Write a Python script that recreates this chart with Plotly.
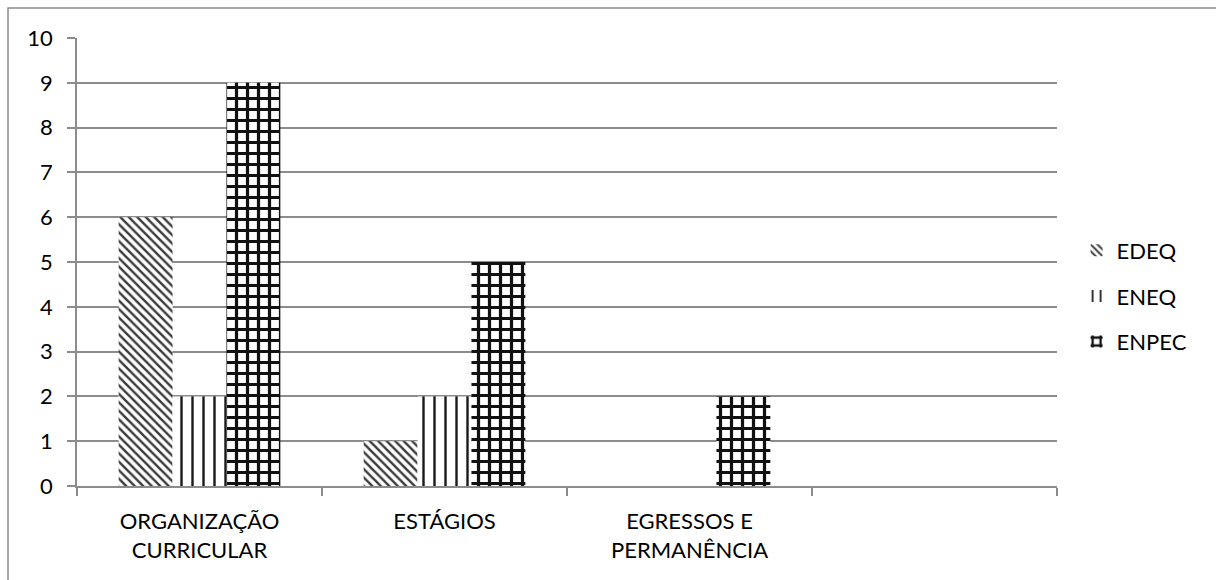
import plotly.graph_objects as go

# Categories on the x axis (the fourth slot is left blank)
categories = ["ORGANIZAÇÃO<br>CURRICULAR", "ESTÁGIOS", "EGRESSOS E<br>PERMANÊNCIA", " "]

# Counts per event
edeq = [6, 1, 0, None]
eneq = [2, 2, 0, None]
enpec = [9, 5, 2, None]

y_ticks = list(range(0, 11))

GRAY = "#8c8c8c"
FONT = dict(family="Lato, 'Open Sans', sans-serif", size=22, color="#000000")

fig = go.Figure()

fig.add_trace(go.Bar(
    name="EDEQ", x=categories, y=edeq, legendgroup="a",
    marker=dict(color="white", line=dict(width=0),
                pattern=dict(shape="\\", size=6, solidity=0.4,
                             fgcolor="#3a3a3a", bgcolor="white", fillmode="replace")),
))
fig.add_trace(go.Bar(
    name="ENEQ", x=categories, y=eneq, legendgroup="b",
    marker=dict(color="white", line=dict(width=0),
                pattern=dict(shape="|", size=11, solidity=0.22,
                             fgcolor="#1a1a1a", bgcolor="white", fillmode="replace")),
))
fig.add_trace(go.Bar(
    name="ENPEC", x=categories, y=enpec, legendgroup="c",
    marker=dict(color="white", line=dict(width=0),
                pattern=dict(shape="+", size=11, solidity=0.5,
                             fgcolor="#111111", bgcolor="white", fillmode="replace")),
))

fig.update_layout(
    width=1216, height=580,
    margin=dict(l=77, r=159, t=38, b=94),
    paper_bgcolor="white", plot_bgcolor="white",
    font=FONT,
    barmode="group", bargap=0.34, bargroupgap=0,
    showlegend=True,
    legend=dict(x=1.02, y=0.424, xanchor="left", yanchor="middle",
                traceorder="grouped", tracegroupgap=14,
                font=FONT, bgcolor="rgba(0,0,0,0)"),
    shapes=[dict(type="rect", xref="paper", yref="paper",
                 x0=-0.0704, x1=1.4, y0=-0.6, y1=1.067,
                 line=dict(color=GRAY, width=1.5), layer="below")],
)

fig.update_xaxes(
    type="category", categoryorder="array", categoryarray=categories,
    tickson="boundaries", ticks="outside", ticklen=8, tickwidth=1.5, tickcolor=GRAY,
    showline=True, linecolor=GRAY, linewidth=1.5,
    showgrid=False, zeroline=False, tickfont=FONT, ticklabelstandoff=15,
)
fig.update_yaxes(
    range=[0, 10], tickvals=y_ticks, ticks="outside", ticklen=8, tickwidth=1.5,
    tickcolor=GRAY, showline=True, linecolor=GRAY, linewidth=1.5,
    showgrid=True, gridcolor=GRAY, gridwidth=1.5, zeroline=False,
    tickfont=FONT, ticklabelstandoff=10,
)

fig.write_html("out.html")
